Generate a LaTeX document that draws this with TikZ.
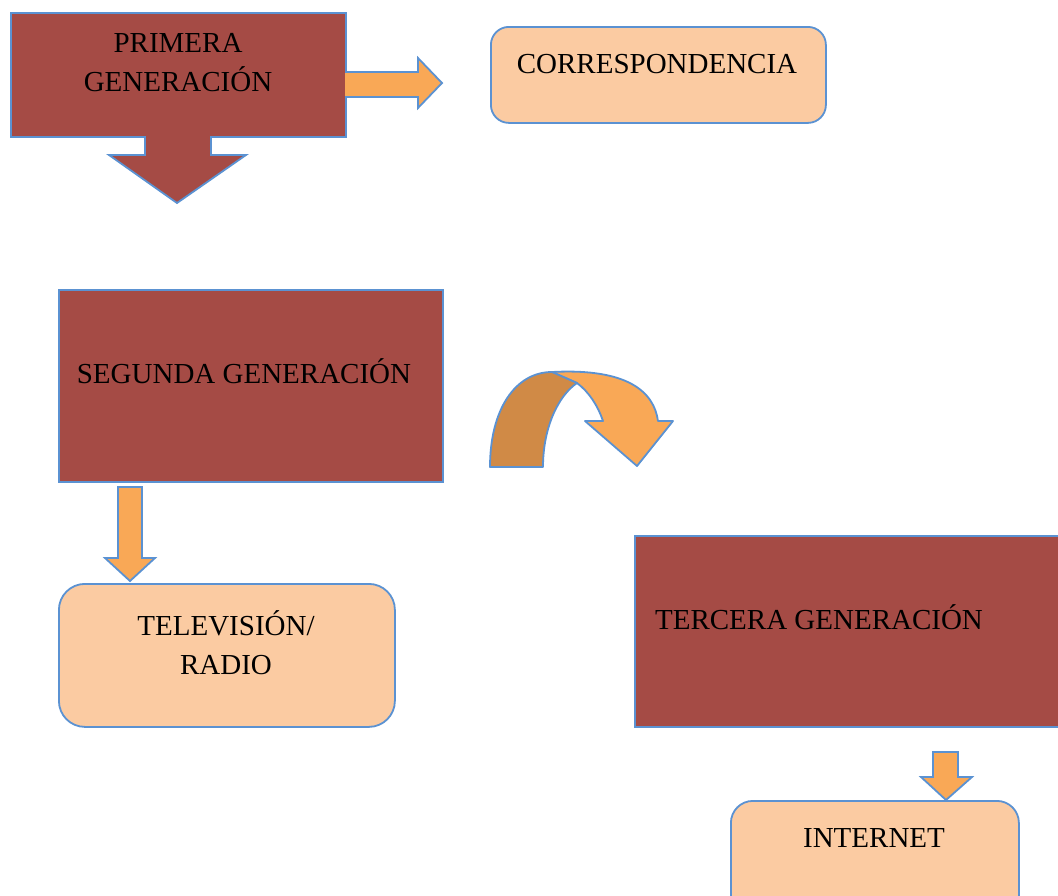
\documentclass[tikz,border=0pt]{standalone}
\usepackage{fontspec}
\setmainfont{Liberation Serif}
\usepackage{tikz}
\usetikzlibrary{calc}

\definecolor{boxred}{RGB}{165,75,69}
\definecolor{peach}{RGB}{251,203,162}
\definecolor{arroworange}{RGB}{249,168,86}
\definecolor{darkorange}{RGB}{208,138,70}
\definecolor{borderblue}{RGB}{91,146,210}

\tikzset{
  genbox/.style={draw=borderblue, line width=1.8pt, fill=boxred},
  infobox/.style={draw=borderblue, line width=1.8pt, fill=peach},
  txt/.style={font=\fontsize{29}{39}\selectfont, align=center, inner sep=0pt},
  blockarrow/.style={draw=borderblue, line width=1.8pt, fill=arroworange, line join=miter}
}

\begin{document}
\begin{tikzpicture}[x=1pt,y=-1pt]
\useasboundingbox (0,0) rectangle (1058,895);
\clip (0,0) rectangle (1058,895);

% generaciones
\node[genbox, anchor=north west, minimum width=335pt, minimum height=124pt] (prim) at (10,12) {};
\node[genbox, anchor=north west, minimum width=384pt, minimum height=192pt] (seg) at (58,289) {};
\node[genbox, anchor=north west, minimum width=440pt, minimum height=191pt] (terc) at (634,535) {};

% medios
\node[infobox, rounded corners=18pt, anchor=north west, minimum width=335pt, minimum height=96pt] (corr) at (490,26) {};
\node[infobox, rounded corners=26pt, anchor=north west, minimum width=336pt, minimum height=143pt] (tele) at (58,583) {};
\node[infobox, rounded corners=22pt, anchor=north west, minimum width=288pt, minimum height=130pt] (inter) at (730,800) {};

% flechas
\draw[blockarrow, fill=boxred]
(145,136) -- (145,155) -- (109,155) -- (177,203) -- (246,155) -- (211,155) -- (211,136);
\draw[blockarrow]
(345,72) -- (418,72) -- (418,58) -- (442,83) -- (418,108) -- (418,97) -- (345,97);
\draw[blockarrow]
(118,487) -- (142,487) -- (142,558) -- (155,558) -- (130,581) -- (105,558) -- (118,558) -- cycle;
\draw[blockarrow]
(933,752) -- (958,752) -- (958,777) -- (972,777) -- (946,800) -- (921,777) -- (933,777) -- cycle;

% flecha curva
\draw[blockarrow, line join=round]
(552,372) .. controls (628,368) and (654,392) .. (658,421)
-- (673,421) -- (637,466) -- (585,421) -- (603,421)
.. controls (598,406) and (589,392) .. (577,383) -- cycle;
\draw[blockarrow, fill=darkorange, line join=round]
(490,467) .. controls (490,410) and (515,372) .. (552,372)
-- (577,383) .. controls (558,396) and (543,428) .. (543,467) -- cycle;

% textos
\node[txt] (primtxt) at (178,63) {PRIMERA\\GENERACIÓN};
\node[txt, anchor=base] (corrtxt) at (657,73) {CORRESPONDENCIA};
\node[txt, anchor=base] (segtxt) at (244,383) {SEGUNDA GENERACIÓN};
\node[txt] (teletxt) at (226,643) {TELEVISIÓN/\\RADIO};
\node[txt, anchor=base] (terctxt) at (819,629) {TERCERA GENERACIÓN};
\node[txt, anchor=base] (intertxt) at (874,847) {INTERNET};
\end{tikzpicture}
\end{document}
